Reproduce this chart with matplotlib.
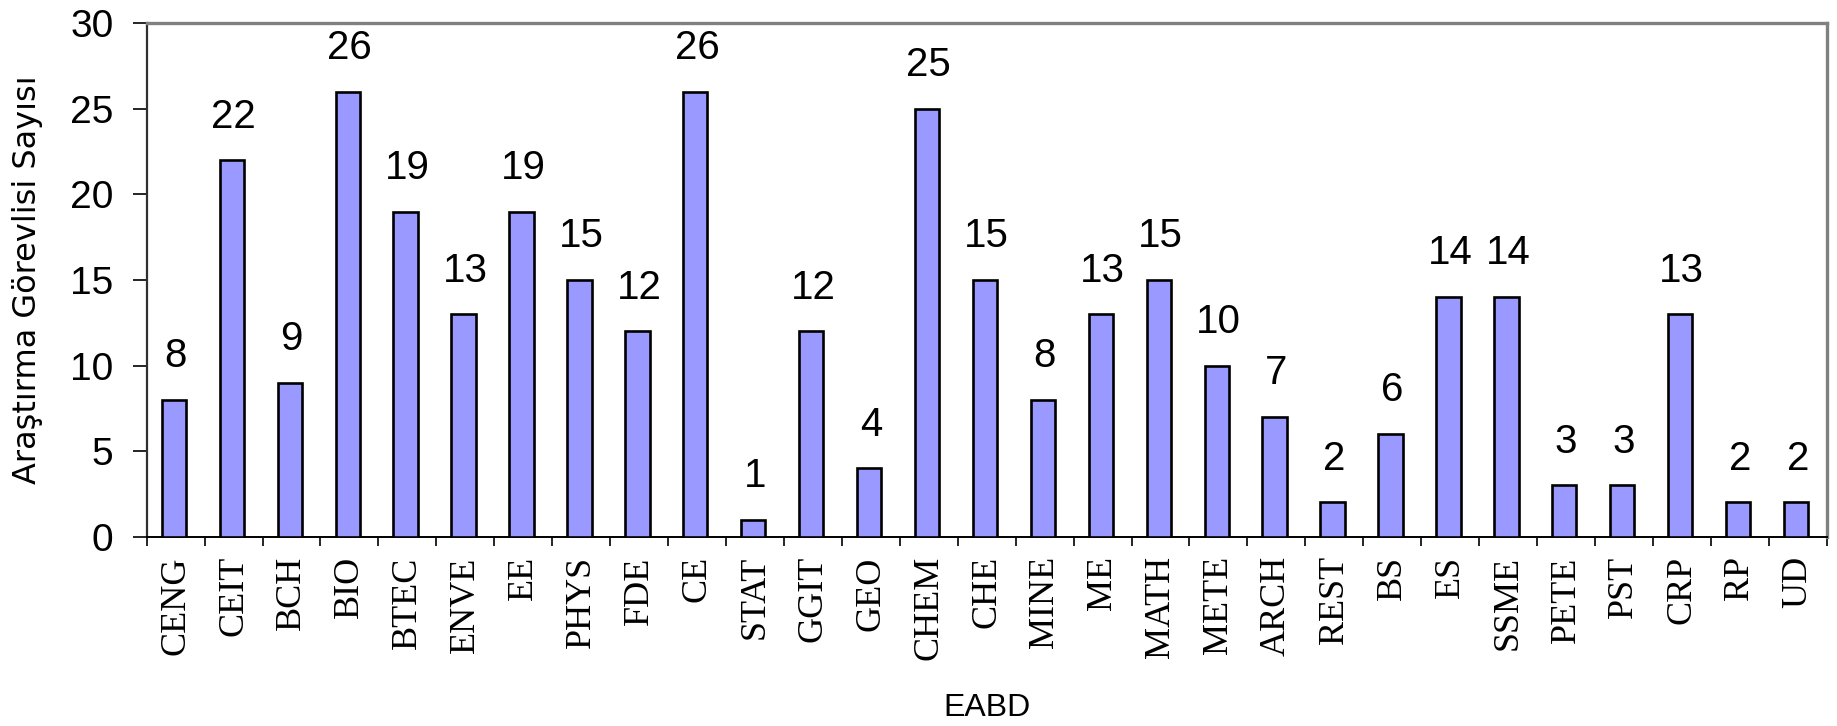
import matplotlib
matplotlib.use("Agg")
import matplotlib.pyplot as plt
import numpy as np

categories = ["CENG", "CEIT", "BCH", "BIO", "BTEC", "ENVE", "EE", "PHYS", "FDE", "CE",
              "STAT", "GGIT", "GEO", "CHEM", "CHE", "MINE", "ME", "MATH", "METE", "ARCH",
              "REST", "BS", "ES", "SSME", "PETE", "PST", "CRP", "RP", "UD"]
values = [8, 22, 9, 26, 19, 13, 19, 15, 12, 26,
          1, 12, 4, 25, 15, 8, 13, 15, 10, 7,
          2, 6, 14, 14, 3, 3, 13, 2, 2]
yticks = [0, 5, 10, 15, 20, 25, 30]
xlabel = "EABD"
ylabel = "Araştırma Görevlisi Sayısı"

W, H = 1837, 726
fig = plt.figure(figsize=(W / 100, H / 100), dpi=100)
ax = fig.add_axes([146.7 / W, 1 - 536.7 / H, (1826.7 - 146.7) / W, (536.7 - 23.3) / H])

x = np.arange(len(categories))
ax.bar(x - 0.03, values, width=0.42, color="#9999FF", edgecolor="black", linewidth=1.9, zorder=3)

for xi, v in zip(x, values):
    ax.annotate(str(v), (xi, v), xytext=(0, 23.5), textcoords="offset points",
                ha="center", va="baseline", fontsize=29, family="Liberation Sans")

ax.set_xlim(-0.5, len(categories) - 0.5)
ax.set_ylim(0, 30)

ax.set_xticks(x)
ax.set_xticklabels(categories, rotation=90, family="Liberation Serif", fontsize=26, va="top")
ax.set_xticks(np.arange(len(categories) + 1) - 0.5, minor=True)
ax.tick_params(axis="x", which="major", length=0, pad=14)
ax.tick_params(axis="x", which="minor", length=6.5, width=1.2, direction="out", color="black")

ax.set_yticks(yticks)
ax.set_yticklabels([str(t) for t in yticks], family="Liberation Sans", fontsize=28)
ax.tick_params(axis="y", length=10, width=1.2, pad=14, color="black")

for s in ["top", "right"]:
    ax.spines[s].set_color("#808080")
    ax.spines[s].set_linewidth(2.4)
ax.spines["left"].set_color("#303030")
ax.spines["left"].set_linewidth(1.6)
ax.spines["bottom"].set_color("black")
ax.spines["bottom"].set_linewidth(1.4)

ax.set_xlabel(xlabel, family="Liberation Sans", fontsize=23)
ax.xaxis.set_label_coords(0.5, -(693 - 536.7) / 513.4)
ax.set_ylabel(ylabel, family="DejaVu Sans", fontsize=23)
ax.yaxis.set_label_coords((43 - 146.7) / 1680, 0.5)

fig.savefig("out.png", dpi=100)
